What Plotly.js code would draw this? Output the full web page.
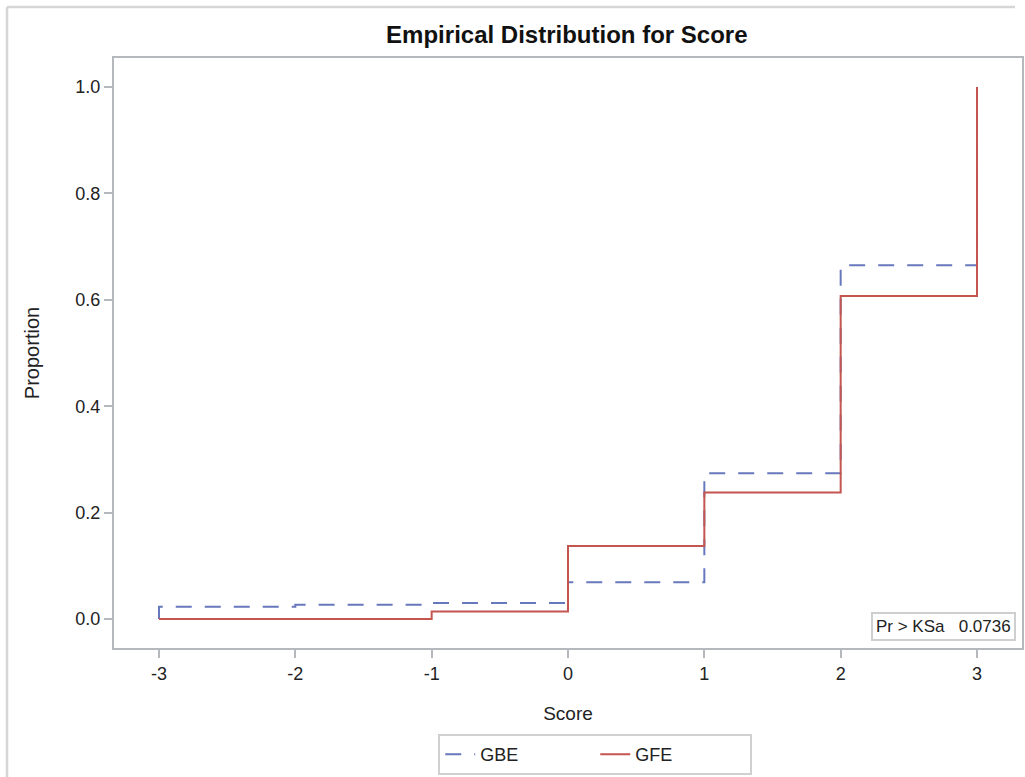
<!DOCTYPE html>
<html>
<head>
<meta charset="utf-8">
<script src="https://cdn.plot.ly/plotly-3.0.1.min.js"></script>
<style>
html,body{margin:0;padding:0;background:#fff;overflow:hidden;width:1025px;height:777px;}
#chart{width:1025px;height:777px;}
</style>
</head>
<body>
<div id="chart"></div>
<script>
var scores = [-3, -2, -1, 0, 1, 2, 3];
var gbe = [0.023, 0.027, 0.030, 0.069, 0.274, 0.665, 1.0];
var gfe = [0.0, 0.0, 0.014, 0.137, 0.238, 0.607, 1.0];
var xTicks = [-3, -2, -1, 0, 1, 2, 3];
var yTicks = [0, 0.2, 0.4, 0.6, 0.8, 1.0];
var yTickText = ['0.0', '0.2', '0.4', '0.6', '0.8', '1.0'];
var ksLabel = 'Pr > KSa', ksValue = '0.0736';

var font = 'Liberation Sans, Arial, sans-serif';
var traces = [
  {x: [scores[0]].concat(scores), y: [0].concat(gbe), name: 'GBE', mode: 'lines',
   line: {shape: 'hv', color: '#6878bd', width: 2, dash: '16px,13px'}},
  {x: scores, y: gfe, name: 'GFE', mode: 'lines',
   line: {shape: 'hv', color: '#c4554f', width: 2}}
];
var borderLine = {color: '#d6d6d6', width: 2.5};
var layout = {
  width: 1025, height: 777,
  margin: {l: 114, r: 3, t: 58, b: 129, autoexpand: false},
  paper_bgcolor: '#fff', plot_bgcolor: '#fff',
  showlegend: true,
  title: {text: '<b>Empirical Distribution for Score</b>', x: 0.553, xanchor: 'center', y: 0.956, yanchor: 'middle',
          font: {family: font, size: 24, color: '#111'}},
  xaxis: {range: [-3.33, 3.33], tickvals: xTicks, ticktext: xTicks.map(String),
          showgrid: false, zeroline: false, showline: true, mirror: true, linecolor: '#b5b9bd', linewidth: 2,
          ticks: 'outside', ticklen: 8, tickcolor: '#b5b9bd', tickwidth: 2,
          tickfont: {family: font, size: 18, color: '#222'},
          title: {text: 'Score', font: {family: font, size: 19, color: '#222'}, standoff: 24}},
  yaxis: {range: [-0.0545, 1.0545], tickvals: yTicks, ticktext: yTickText,
          showgrid: false, zeroline: false, showline: true, mirror: true, linecolor: '#b5b9bd', linewidth: 2,
          ticks: 'outside', ticklen: 8, tickcolor: '#b5b9bd', tickwidth: 2,
          tickfont: {family: font, size: 18, color: '#222'},
          title: {text: 'Proportion', font: {family: font, size: 20, color: '#222'}, standoff: 30}},
  legend: {orientation: 'h', x: 0.53, xanchor: 'center', y: -0.146, yanchor: 'top',
           bordercolor: '#d0d0d0', borderwidth: 2, bgcolor: '#fff',
           font: {family: font, size: 18, color: '#222'}, entrywidth: 110},
  shapes: [
    {type: 'line', xref: 'paper', yref: 'paper', x0: -0.1178, x1: 0.9923, y0: 1.0864, y1: 1.0864, line: borderLine},
    {type: 'line', xref: 'paper', yref: 'paper', x0: -0.1178, x1: -0.1178, y0: 1.0864, y1: -0.22, line: borderLine}
  ],
  annotations: [{xref: 'paper', yref: 'paper', x: 0.9935, y: 0.012, xanchor: 'right', yanchor: 'bottom',
                 text: ksLabel + '&nbsp;&nbsp;&nbsp;' + ksValue, showarrow: false,
                 font: {family: font, size: 17, color: '#222'},
                 bordercolor: '#cfcfcf', borderwidth: 2, borderpad: 3, bgcolor: '#fff'}]
};
Plotly.newPlot('chart', traces, layout, {displayModeBar: false, staticPlot: true});
</script>
</body>
</html>
